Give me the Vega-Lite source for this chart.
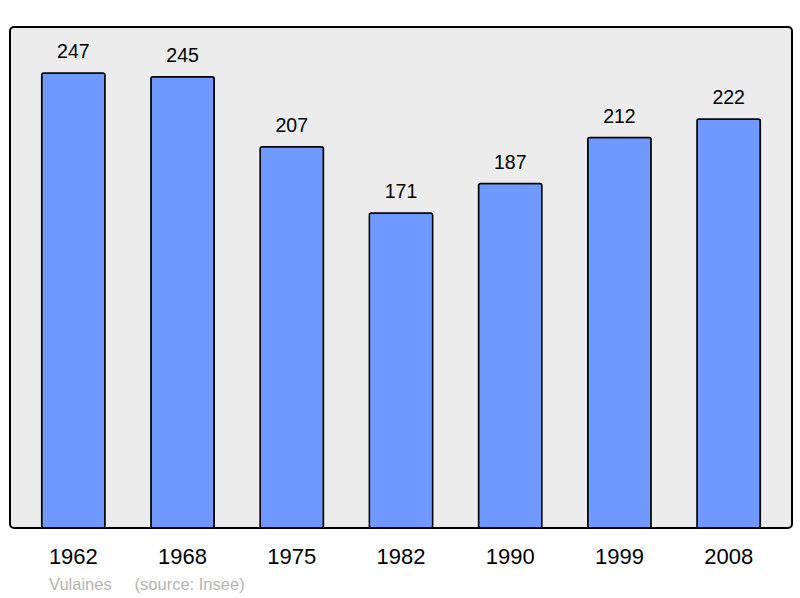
{
  "$schema": "https://vega.github.io/schema/vega-lite/v6.json",
  "width": 782,
  "height": 501,
  "autosize": {"type": "none"},
  "padding": {"left": 10, "top": 27, "right": 8, "bottom": 70},
  "background": "white",
  "config": {
    "view": {"fill": "#ececec", "stroke": "black", "strokeWidth": 2, "cornerRadius": 4},
    "font": "Liberation Sans"
  },
  "title": {
    "text": "Vulaines\u00a0\u00a0\u00a0\u00a0 (source: Insee)",
    "orient": "bottom",
    "anchor": "start",
    "dx": 39,
    "offset": 10,
    "fontSize": 16.5,
    "font": "Liberation Sans",
    "fontWeight": "normal",
    "color": "#b3b3b3"
  },
  "data": {
    "values": [
      {"year": "1962", "pop": 247},
      {"year": "1968", "pop": 245},
      {"year": "1975", "pop": 207},
      {"year": "1982", "pop": 171},
      {"year": "1990", "pop": 187},
      {"year": "1999", "pop": 212},
      {"year": "2008", "pop": 222}
    ]
  },
  "encoding": {
    "x": {
      "field": "year",
      "type": "ordinal",
      "scale": {"paddingInner": 0.42, "paddingOuter": 0.29},
      "axis": {
        "title": null,
        "labelAngle": 0,
        "labelFontSize": 22,
        "labelColor": "black",
        "labelFont": "Liberation Sans",
        "labelPadding": 18,
        "ticks": false,
        "domain": false
      }
    },
    "y": {
      "field": "pop",
      "type": "quantitative",
      "scale": {"domain": [0, 272], "nice": false},
      "axis": null
    }
  },
  "layer": [
    {
      "mark": {"type": "bar", "fill": "#7099ff", "stroke": "black", "strokeWidth": 1.5, "cornerRadius": 2}
    },
    {
      "mark": {"type": "text", "baseline": "alphabetic", "dy": -15, "fontSize": 19.5, "font": "Liberation Sans", "color": "black"},
      "encoding": {"text": {"field": "pop", "type": "quantitative"}}
    }
  ]
}
